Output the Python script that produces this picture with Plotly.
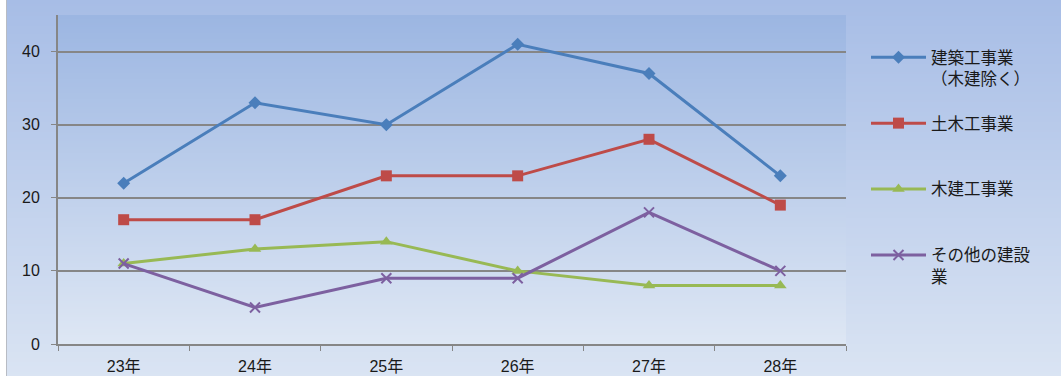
import plotly.graph_objects as go

categories = ["23年", "24年", "25年", "26年", "27年", "28年"]
s_kenchiku = [22, 33, 30, 41, 37, 23]
s_doboku = [17, 17, 23, 23, 28, 19]
s_mokken = [11, 13, 14, 10, 8, 8]
s_sonota = [11, 5, 9, 9, 18, 10]
names = ["建築工事業<br>（木建除く）", "土木工事業<br> ", "木建工事業<br> ", "その他の建設<br>業"]
y_ticks = [0, 10, 20, 30, 40]

FONT = "Liberation Sans, Noto Sans CJK JP"
W, H = 1061, 376
ML, MR, MT, MB = 58, 215, 15, 32
PW, PH = W - ML - MR, H - MT - MB


def lerp(c1, c2, t):
    return "rgb(%d,%d,%d)" % tuple(round(a + (b - a) * t) for a, b in zip(c1, c2))


def px_x(p):
    return (p - ML) / PW


def px_y(p):
    return 1 - (p - MT) / PH


shapes = []
# page gradient
step = 2
top_c, bot_c = (167, 189, 230), (218, 228, 243)
for y in range(0, H, step):
    shapes.append(dict(type="rect", xref="paper", yref="paper", layer="below",
                       x0=px_x(6), x1=px_x(W), y0=px_y(y + step + 0.5), y1=px_y(y),
                       fillcolor=lerp(top_c, bot_c, y / H), line=dict(width=0)))
# white strip at left edge
shapes.append(dict(type="rect", xref="paper", yref="paper", layer="below",
                   x0=px_x(0), x1=px_x(6), y0=px_y(H), y1=px_y(0),
                   fillcolor="white", line=dict(width=0)))
shapes.append(dict(type="line", xref="paper", yref="paper", layer="below",
                   x0=px_x(6.5), x1=px_x(6.5), y0=px_y(H), y1=px_y(0),
                   line=dict(color="#B8BCC4", width=1)))
# plot-area gradient
ptop, pbot = (156, 182, 226), (222, 231, 244)
for y in range(MT, MT + PH, step):
    shapes.append(dict(type="rect", xref="paper", yref="paper", layer="below",
                       x0=0, x1=1, y0=max(0, px_y(y + step + 0.5)), y1=px_y(y),
                       fillcolor=lerp(ptop, pbot, (y - MT) / PH), line=dict(width=0)))

fig = go.Figure()
series = [
    (s_kenchiku, "#4A7EBB", dict(symbol="diamond", size=10, color="#4A7EBB")),
    (s_doboku, "#BE4B48", dict(symbol="square", size=11, color="#BE4B48")),
    (s_mokken, "#98B954", dict(symbol="triangle-up", size=11, color="#98B954")),
    (s_sonota, "#7D60A0", dict(symbol="x-thin", size=10, color="#7D60A0",
                               line=dict(width=2, color="#7D60A0"))),
]
for i, (vals, col, mk) in enumerate(series):
    fig.add_trace(go.Scatter(x=categories, y=vals, name=names[i], mode="lines+markers",
                             line=dict(color=col, width=3), marker=mk,
                             legendgroup=str(i)))

fig.update_layout(
    width=W, height=H,
    margin=dict(l=ML, r=MR, t=MT, b=MB, autoexpand=False),
    paper_bgcolor="rgba(0,0,0,0)", plot_bgcolor="rgba(0,0,0,0)",
    font=dict(family=FONT, size=16, color="#1a1a1a"),
    shapes=shapes,
    showlegend=True,
    legend=dict(x=px_x(866), y=px_y(40), xanchor="left", yanchor="top",
                bgcolor="rgba(0,0,0,0)", valign="top", tracegroupgap=20,
                itemwidth=55, font=dict(family=FONT, size=16.5, color="#1a1a1a")),
    xaxis=dict(type="category", showgrid=False, showline=True, linecolor="#868686",
               linewidth=2, ticks="outside", tickson="boundaries", ticklen=5,
               tickcolor="#868686", tickwidth=1, range=[-0.5, 5.5], fixedrange=True,
               automargin=False, ticklabelstandoff=7),
    yaxis=dict(range=[0, 45], tickvals=y_ticks, showgrid=True, gridcolor="#868686",
               gridwidth=1.5, showline=True, linecolor="#868686", linewidth=2,
               ticks="outside", ticklen=5, tickcolor="#868686", zeroline=False,
               ticklabelstandoff=8, automargin=False),
)
fig.write_html("out.html")
